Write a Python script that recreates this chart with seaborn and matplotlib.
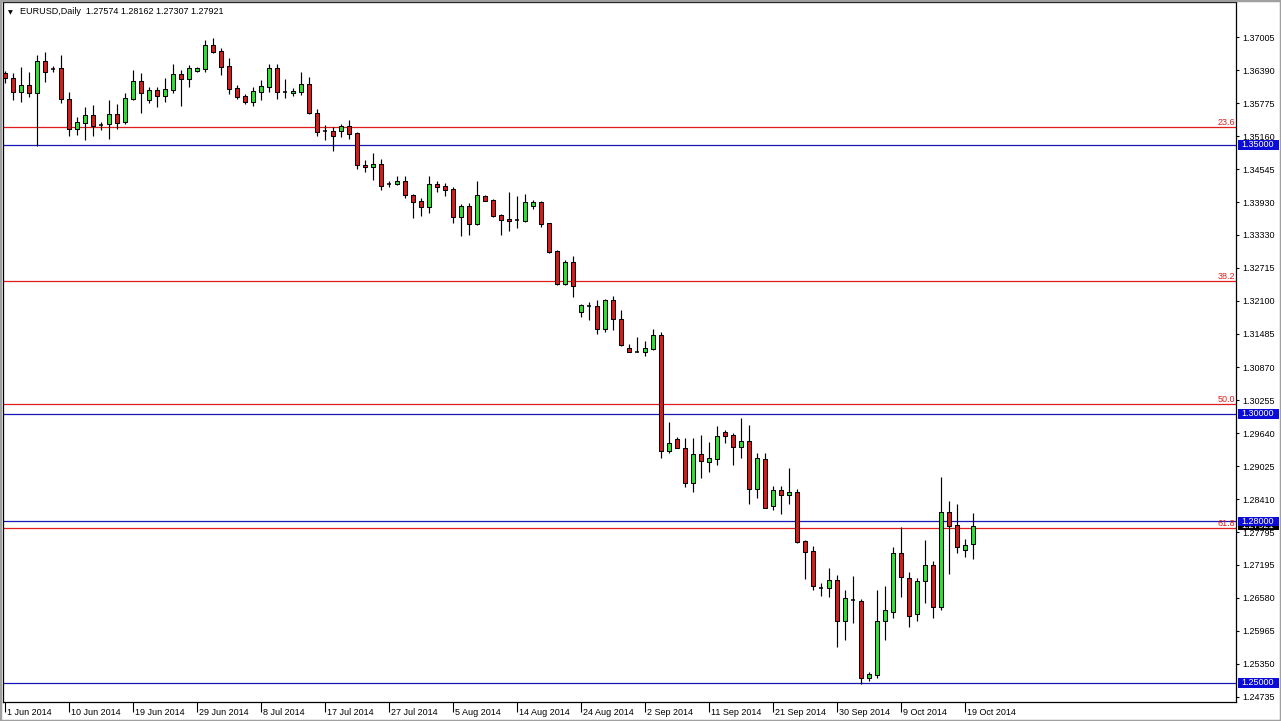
import numpy as np
import pandas as pd
import matplotlib
matplotlib.use("Agg")
import matplotlib.pyplot as plt
import matplotlib.transforms as mtransforms
from matplotlib.patches import Rectangle
import seaborn as sns

# ---------------- data ----------------
symbol = "EURUSD,Daily"
first_day = "2014-06-01"
week_days = "Sun Mon Tue Wed Thu Fri"

opens = [1.3633, 1.3625, 1.3599, 1.3611, 1.3596, 1.3656, 1.3641, 1.3642, 1.3586, 1.3529,
         1.3541, 1.3555, 1.3537, 1.3538, 1.3558, 1.3542, 1.3585, 1.3619, 1.3583, 1.3602,
         1.3591, 1.3602, 1.3632, 1.3623, 1.3637, 1.3641, 1.3686, 1.3674, 1.3647, 1.3606,
         1.3591, 1.3580, 1.3599, 1.3608, 1.3642, 1.3599, 1.3596, 1.3599, 1.3613, 1.3560,
         1.3525, 1.3525, 1.3525, 1.3535, 1.3522, 1.3463, 1.3459, 1.3465, 1.3428, 1.3428,
         1.3432, 1.3407, 1.3395, 1.3385, 1.3428, 1.3424, 1.3418, 1.3365, 1.3387, 1.3353,
         1.3405, 1.3398, 1.3370, 1.3363, 1.3360, 1.3359, 1.3387, 1.3394, 1.3354, 1.3302,
         1.3241, 1.3283, 1.3190, 1.3201, 1.3200, 1.3157, 1.3211, 1.3177, 1.3123, 1.3115,
         1.3115, 1.3121, 1.3146, 1.2930, 1.2953, 1.2936, 1.2871, 1.2925, 1.2911, 1.2916,
         1.2967, 1.2961, 1.2939, 1.2950, 1.2861, 1.2916, 1.2829, 1.2858, 1.2849, 1.2855,
         1.2763, 1.2745, 1.2677, 1.2676, 1.2691, 1.2614, 1.2654, 1.2652, 1.2508, 1.2514,
         1.2614, 1.2632, 1.2741, 1.2695, 1.2627, 1.2690, 1.2719, 1.2640, 1.2817, 1.2793,
         1.2747, 1.27574]
highs = [1.3637, 1.3634, 1.3645, 1.3636, 1.3667, 1.3673, 1.3647, 1.3667, 1.3599, 1.3551,
         1.3570, 1.3574, 1.3543, 1.3584, 1.3576, 1.3596, 1.3640, 1.3633, 1.3608, 1.3607,
         1.3624, 1.3650, 1.3639, 1.3648, 1.3645, 1.3695, 1.3698, 1.3680, 1.3661, 1.3611,
         1.3594, 1.3608, 1.3620, 1.3650, 1.3650, 1.3622, 1.3605, 1.3636, 1.3627, 1.3566,
         1.3537, 1.3533, 1.3538, 1.3546, 1.3524, 1.3471, 1.3485, 1.3474, 1.3433, 1.3442,
         1.3442, 1.3409, 1.3401, 1.3442, 1.3432, 1.3430, 1.3421, 1.3390, 1.3392, 1.3432,
         1.3407, 1.3399, 1.3372, 1.3413, 1.3405, 1.3409, 1.3398, 1.3396, 1.3355, 1.3305,
         1.3286, 1.3293, 1.3205, 1.3207, 1.3211, 1.3214, 1.3219, 1.3193, 1.3129, 1.3142,
         1.3136, 1.3158, 1.3152, 1.2984, 1.2956, 1.2955, 1.2955, 1.2961, 1.2948, 1.2977,
         1.2970, 1.2964, 1.2992, 1.2979, 1.2927, 1.2927, 1.2866, 1.2866, 1.2900, 1.2861,
         1.2766, 1.2755, 1.2685, 1.2713, 1.2701, 1.2673, 1.2698, 1.2656, 1.2520, 1.2673,
         1.2680, 1.2753, 1.2789, 1.2706, 1.2695, 1.2766, 1.2727, 1.2883, 1.2838, 1.2833,
         1.2767, 1.28162]
lows = [1.3615, 1.3583, 1.3580, 1.3589, 1.3497, 1.3617, 1.3636, 1.3578, 1.3516, 1.3519,
        1.3509, 1.3516, 1.3527, 1.3510, 1.3530, 1.3538, 1.3583, 1.3559, 1.3578, 1.3571,
        1.3580, 1.3597, 1.3572, 1.3607, 1.3635, 1.3636, 1.3670, 1.3630, 1.3594, 1.3586,
        1.3576, 1.3572, 1.3583, 1.3599, 1.3586, 1.3587, 1.3591, 1.3592, 1.3558, 1.3516,
        1.3509, 1.3488, 1.3515, 1.3510, 1.3455, 1.3449, 1.3434, 1.3416, 1.3421, 1.3426,
        1.3401, 1.3364, 1.3368, 1.3374, 1.3413, 1.3405, 1.3355, 1.3331, 1.3333, 1.3351,
        1.3395, 1.3365, 1.3333, 1.3339, 1.3345, 1.3357, 1.3380, 1.3348, 1.3299, 1.3239,
        1.3239, 1.3217, 1.3180, 1.3174, 1.3149, 1.3152, 1.3155, 1.3126, 1.3115, 1.3114,
        1.3107, 1.3119, 1.2917, 1.2927, 1.2936, 1.2863, 1.2855, 1.2880, 1.2892, 1.2905,
        1.2946, 1.2905, 1.2917, 1.2832, 1.2843, 1.2824, 1.2821, 1.2813, 1.2833, 1.2759,
        1.2693, 1.2673, 1.2662, 1.2660, 1.2567, 1.2580, 1.2611, 1.2498, 1.2504, 1.2509,
        1.2580, 1.2620, 1.2660, 1.2603, 1.2615, 1.2648, 1.2621, 1.2635, 1.2703, 1.2741,
        1.2734, 1.27307]
closes = [1.3624, 1.3599, 1.3611, 1.3596, 1.3656, 1.3636, 1.3641, 1.3586, 1.3529, 1.3542,
          1.3555, 1.3535, 1.3537, 1.3558, 1.3541, 1.3588, 1.3619, 1.3596, 1.3602, 1.3591,
          1.3604, 1.3632, 1.3623, 1.3642, 1.3642, 1.3686, 1.3673, 1.3645, 1.3604, 1.3589,
          1.3580, 1.3600, 1.3609, 1.3642, 1.3599, 1.3599, 1.3600, 1.3613, 1.3559, 1.3524,
          1.3525, 1.3517, 1.3535, 1.3521, 1.3463, 1.3458, 1.3465, 1.3424, 1.3428, 1.3432,
          1.3406, 1.3393, 1.3385, 1.3428, 1.3422, 1.3416, 1.3365, 1.3387, 1.3352, 1.3407,
          1.3396, 1.3368, 1.3360, 1.3358, 1.3360, 1.3394, 1.3394, 1.3353, 1.3301, 1.3242,
          1.3282, 1.3237, 1.3202, 1.3201, 1.3157, 1.3211, 1.3177, 1.3127, 1.3115, 1.3115,
          1.3122, 1.3147, 1.2930, 1.2946, 1.2936, 1.2871, 1.2925, 1.2912, 1.2917, 1.2959,
          1.2959, 1.2939, 1.2950, 1.2861, 1.2917, 1.2825, 1.2858, 1.2849, 1.2855, 1.2762,
          1.2744, 1.2679, 1.2677, 1.2691, 1.2614, 1.2657, 1.2654, 1.2508, 1.2516, 1.2615,
          1.2636, 1.2741, 1.2696, 1.2625, 1.2690, 1.2718, 1.2640, 1.2817, 1.2792, 1.2752,
          1.2757, 1.27921]

price_ticks = [1.37005, 1.36390, 1.35775, 1.35160, 1.34545, 1.33930, 1.33330, 1.32715,
               1.32100, 1.31485, 1.30870, 1.30255, 1.29640, 1.29025, 1.28410, 1.27795,
               1.27195, 1.26580, 1.25965, 1.25350, 1.24735]
round_levels = [1.35, 1.30, 1.28, 1.25]
fib_high = 1.3993
fib_low = 1.2042
fib_ratios = [0.236, 0.382, 0.500, 0.618]
fib_labels = ["23.6", "38.2", "50.0", "61.8"]
label_every = 8
price_range = (1.24642, 1.37656)

# ---------------- style ----------------
sns.set_theme(style="white")
plt.rcParams['font.family'] = ['Liberation Sans', 'DejaVu Sans']

UP = '#2fe02f'
DOWN = '#dd1a1a'
BLUE_LINE = '#1818b8'
BLUE_TAG = '#0c0cd8'
FIB_RED = '#e01c1c'
FS = 6.5

W, H = 1281, 721
fig = plt.figure(figsize=(W / 100, H / 100), dpi=100)
fig.patch.set_facecolor('white')
ax = fig.add_axes([3 / W, 1 - 702 / H, 1233 / W, 700 / H])
ax.set_facecolor('white')

df = pd.DataFrame({'open': opens, 'high': highs, 'low': lows, 'close': closes})
df['date'] = pd.bdate_range(first_day, periods=len(df), freq='C', weekmask=week_days)
df['x'] = np.arange(len(df))
df['dir'] = np.sign(df['close'] - df['open'])

# wicks
ax.vlines(df['x'], df['low'], df['high'], color='black', lw=0.85, zorder=3)
# bodies
for d, col in [(1, UP), (-1, DOWN)]:
    sub = df[df['dir'] == d]
    ax.bar(sub['x'], sub['close'] - sub['open'], bottom=sub['open'], width=0.52,
           color=col, edgecolor='black', linewidth=0.75, zorder=4)
doji = df[df['dir'] == 0]
ax.hlines(doji['open'], doji['x'] - 0.3, doji['x'] + 0.3, color='black', lw=1.1, zorder=4)

# horizontal levels
for lv in round_levels:
    ax.axhline(lv, color=BLUE_LINE, lw=0.9, zorder=2)
fib_prices = [fib_high - r * (fib_high - fib_low) for r in fib_ratios]
for fp, lab in zip(fib_prices, fib_labels):
    ax.axhline(fp, color=FIB_RED, lw=0.9, zorder=2)
    ax.text(0.9992, fp, lab, transform=mtransforms.blended_transform_factory(ax.transAxes, ax.transData),
            ha='right', va='bottom', fontsize=FS, color=FIB_RED, zorder=5)

ax.set_xlim(-0.25, 153.875)
ax.set_ylim(*price_range)

# x ticks
xt = df['x'][::label_every]
ax.set_xticks(xt)
ax.set_xticklabels([d.strftime('%-d %b %Y') for d in df['date'][::label_every]], fontsize=FS)
ax.tick_params(axis='x', direction='out', length=7, width=0.8, color='black', pad=-2.5,
               bottom=True, labelcolor='black')
off = mtransforms.ScaledTranslation(2 / 100, 0, fig.dpi_scale_trans)
for lbl in ax.get_xticklabels():
    lbl.set_horizontalalignment('left')
    lbl.set_transform(lbl.get_transform() + off)

# y ticks on right
ax.yaxis.tick_right()
ax.set_yticks(price_ticks)
ax.set_yticklabels([f"{p:.5f}" for p in price_ticks], fontsize=FS)
ax.tick_params(axis='y', direction='out', length=2.5, width=0.8, color='black', pad=2,
               right=True, left=False, labelcolor='black')

for s in ax.spines.values():
    s.set_visible(True)
    s.set_color('black')
    s.set_linewidth(0.9)
ax.grid(False)

# price tags on right axis
tr = mtransforms.blended_transform_factory(ax.transAxes, ax.transData)
per_px = (price_range[1] - price_range[0]) / 700.0


def tag(price, face, z):
    ax.add_patch(Rectangle((1.0 + 1.5 / 1233, price - 4.8 * per_px), 41.5 / 1233, 9.6 * per_px,
                           transform=tr, facecolor=face, edgecolor='none', clip_on=False, zorder=z))
    ax.text(1.0 + 5.5 / 1233, price, f"{price:.5f}", transform=tr, ha='left', va='center',
            fontsize=FS, color='white', clip_on=False, zorder=z + 0.5)


tag(closes[-1], 'black', 10)
for lv in round_levels:
    tag(lv, BLUE_TAG, 12)

# header
fig.text(8 / W, 1 - 12.5 / H, '\u25BC', fontsize=4.5, color='black', va='center',
         family=['DejaVu Sans'])
fig.text(20 / W, 1 - 12 / H,
         f"{symbol}  {opens[-1]:.5f} {highs[-1]:.5f} {lows[-1]:.5f} {closes[-1]:.5f}",
         fontsize=FS, color='black', va='center')

# window border
fig.patches.append(Rectangle((0, 0), 1, 1, transform=fig.transFigure, fill=False,
                             edgecolor='#a0a0a0', linewidth=2.5))

fig.savefig('out.png', dpi=100, facecolor='white')
